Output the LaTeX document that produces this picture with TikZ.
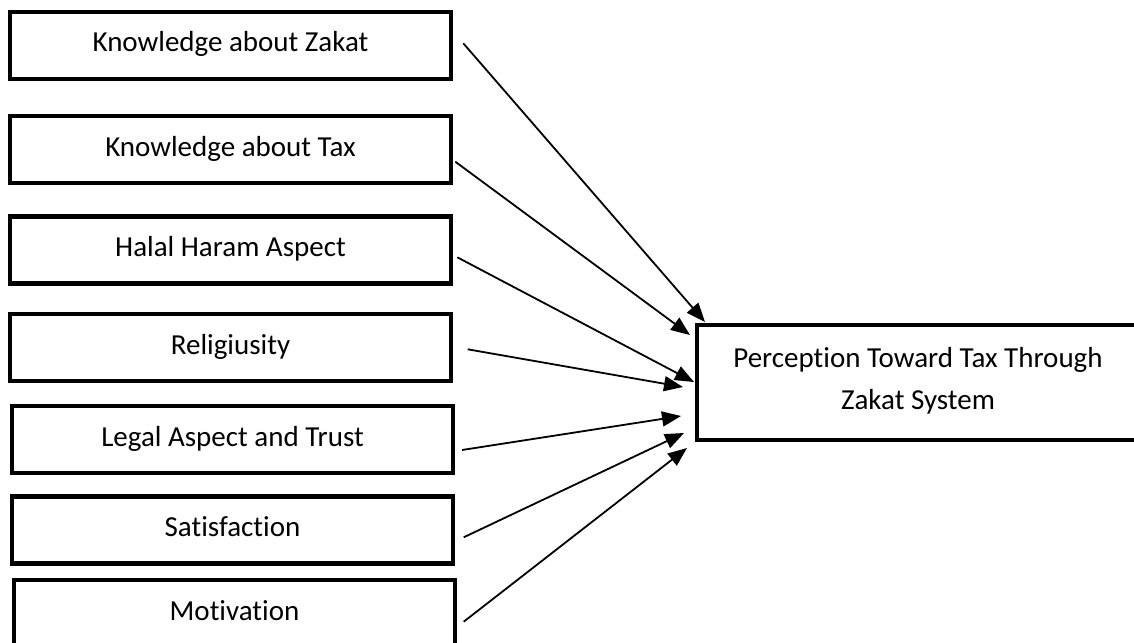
\documentclass[tikz,border=0pt]{standalone}
\usepackage{fontspec}
\setmainfont{Carlito}[Ligatures={NoCommon}]
\usetikzlibrary{arrows.meta}
\begin{document}
\begin{tikzpicture}[x=1pt,y=-1pt,
  inbox/.style={draw=black, line width=4.2pt, minimum width=441pt, minimum height=67pt,
    inner sep=0pt, font=\fontsize{29}{35}\selectfont, text height=21pt, text depth=8pt},
  outbox/.style={draw=black, line width=4.2pt, minimum width=442pt, minimum height=115pt, inner sep=0pt},
  conn/.style={draw=black, line width=1.8pt, -{Triangle[length=19pt,width=15pt]}}
]
\useasboundingbox (0,0) rectangle (1134,642);
\clip (0,0) rectangle (1134,642);
\fill[white] (0,0) rectangle (1134,642);

\node[inbox] (k1) at (230.5,45.5) {Knowledge about Zakat};
\node[inbox] (k2) at (230.5,149.5) {Knowledge about Tax};
\node[inbox] (k3) at (230.5,250) {Halal Haram Aspect};
\node[inbox] (k4) at (230.5,347.5) {Religiusity};
\node[inbox] (k5) at (232.5,439.5) {Legal Aspect and Trust};
\node[inbox] (k6) at (232.5,530) {Satisfaction};
\node[inbox] (k7) at (234.5,613.5) {Motivation};

\node[outbox] (p) at (918,382.5) {};
\node[font=\fontsize{29}{42}\selectfont, align=center, inner sep=0pt, yshift=2pt] (ptext) at (p.center)
  {Perception Toward Tax Through\\Zakat System};

\coordinate (s1) at (463.3,43.3);
\coordinate (s2) at (455.3,161.7);
\coordinate (s3) at (457.3,257.3);
\coordinate (s4) at (467.7,349.3);
\coordinate (s5) at (462,450);
\coordinate (s6) at (463.7,537.3);
\coordinate (s7) at (463.7,621.7);

\coordinate (e1) at (705,322);
\coordinate (e2) at (690,335);
\coordinate (e3) at (694,382);
\coordinate (e4) at (683,387);
\coordinate (e5) at (681,416);
\coordinate (e6) at (684,433);
\coordinate (e7) at (687,448);

\foreach \i in {1,...,7} {\draw[conn] (s\i) -- (e\i);}
\end{tikzpicture}
\end{document}
